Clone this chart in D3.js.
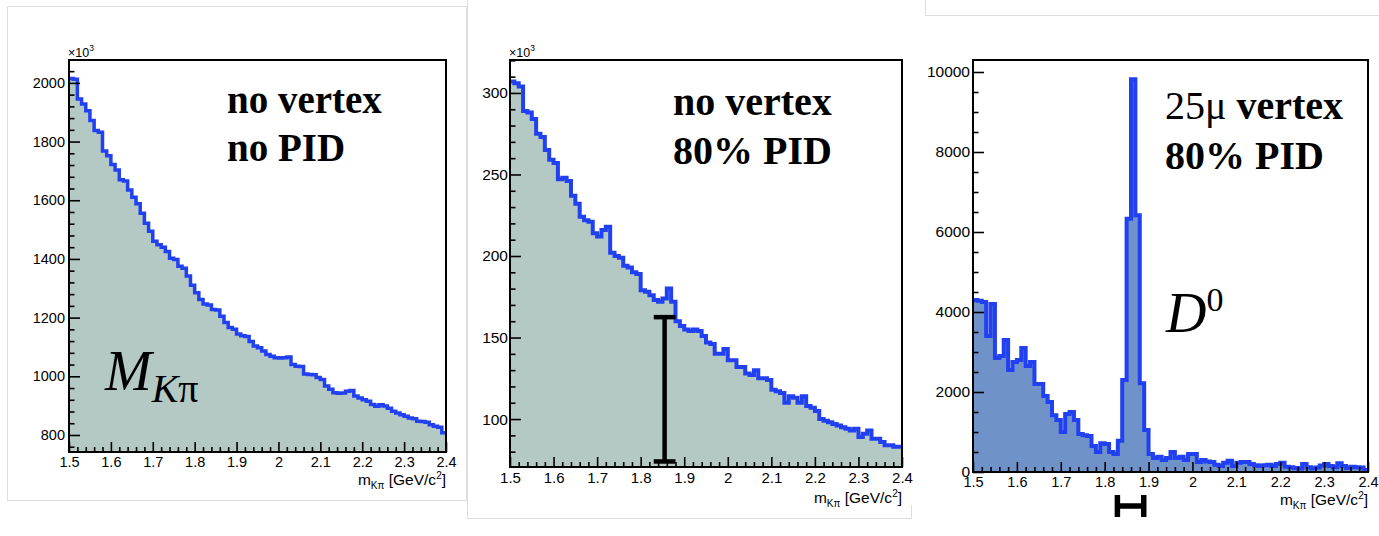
<!DOCTYPE html>
<html>
<head>
<meta charset="utf-8">
<script src="https://cdn.jsdelivr.net/npm/d3@7"></script>
<style>
  html, body { margin: 0; padding: 0; background: #fff; }
  svg { display: block; font-family: "Liberation Sans", Arial, Helvetica, sans-serif; }
</style>
</head>
<body>
<svg id="chart" width="1379" height="536"></svg>
<script>
// K-pi invariant mass spectra, 90 bins of 10 MeV from 1.5 to 2.4 GeV/c^2
const binLow = 1.5;
const binWidth = 0.01;
const xTickValues = [1.5, 1.6, 1.7, 1.8, 1.9, 2.0, 2.1, 2.2, 2.3, 2.4];
const xTickLabels = ["1.5", "1.6", "1.7", "1.8", "1.9", "2", "2.1", "2.2", "2.3", "2.4"];

// no vertex cut, no PID (entries x10^3)
const countsNoCut = [
  2015, 2012, 1945, 1928, 1905, 1872, 1838, 1832, 1768, 1752,
  1722, 1703, 1670, 1666, 1635, 1610, 1588, 1556, 1522, 1494,
  1460, 1448, 1440, 1425, 1402, 1398, 1375, 1368, 1342, 1310,
  1285, 1262, 1246, 1243, 1228, 1226, 1205, 1183, 1166, 1160,
  1144, 1138, 1136, 1119, 1103, 1097, 1086, 1074, 1068, 1063,
  1062, 1063, 1066, 1040, 1034, 1033, 1008, 1006, 1005, 996,
  989, 967, 956, 944, 942, 943, 949, 952, 933, 926,
  920, 915, 904, 898, 903, 899, 891, 881, 875, 869,
  864, 858, 855, 847, 846, 843, 835, 830, 826, 808
];

// no vertex cut, 80% PID (entries x10^3)
const countsPid = [
  307, 306, 304, 289, 288, 284, 275, 273, 265, 259,
  257, 247, 248, 246, 237, 232, 224, 222, 221, 214,
  212, 216, 218, 202, 200, 199, 194, 193, 190, 189,
  179, 178, 176, 173, 172, 174, 180, 172, 160, 157,
  155, 154, 155, 154, 151, 147, 146, 140, 140, 143,
  136, 136, 132, 132, 128, 127, 130, 125, 125, 124,
  118, 117, 116, 110, 114, 113, 110, 114, 108, 107,
  105, 100, 99, 98, 97, 96, 95, 94, 93, 94,
  89, 91, 93, 88, 88, 86, 84, 84, 83, 83
];

// 25 micron vertex cut, 80% PID (entries)
const countsVertexPid = [
  4300, 4280, 4250, 3400, 4200, 2850, 2900, 3300, 2550, 2750,
  2800, 3100, 2650, 2750, 2200, 2200, 1900, 1750, 1420, 1300,
  1000, 1450, 1500, 1300, 950, 920, 900, 650, 500, 720,
  700, 500, 450, 780, 2300, 6330, 9820, 6420, 2220, 1050,
  450, 350, 380, 300, 350, 500, 350, 380, 300, 450,
  450, 250, 300, 260, 250, 180, 150, 230, 280, 150,
  230, 250, 250, 200, 170, 150, 170, 180, 150, 200,
  230, 130, 120, 100, 90, 200, 120, 90, 110, 160,
  200, 150, 120, 220, 150, 100, 130, 120, 110, 50
];

const yTicksNoCut = [800, 1000, 1200, 1400, 1600, 1800, 2000];
const yTicksPid = [100, 150, 200, 250, 300];
const yTicksVertexPid = [0, 2000, 4000, 6000, 8000, 10000];

// D0 mass window markers
const windowCenter = 1.855, windowLow = 74, windowHigh = 162.5, windowHalf = 0.025;
const hLeft = 1.829, hRight = 1.889;

const lineColor = "#2140f2";
const svg = d3.select("#chart");

// faint borders of the pasted plot pictures
const border = svg.append("g").attr("fill", "none").attr("stroke", "#dddddd").attr("stroke-width", 1);
border.append("path").attr("d", "M7.5,6.5H466.5V500.5H7.5Z");
border.append("path").attr("d", "M467.5,0V518.5H911.5V505");
border.append("path").attr("d", "M925.5,0V15.5H1379");

const panels = [
  { id: "p1", counts: countsNoCut, frame: { l: 69, r: 446, t: 60, b: 452 },
    yDomain: [742, 2078], yTicks: yTicksNoCut, yMinor: 40, fill: "#b5c9c4", lw: 3.5,
    yFont: 14.5, xFont: 14.5, yPad: 4, xPad: 5, titleY: 485, exponent: true },
  { id: "p2", counts: countsPid, frame: { l: 510, r: 902, t: 60, b: 467 },
    yDomain: [70.6, 320.2], yTicks: yTicksPid, yMinor: 10, fill: "#b5c9c4", lw: 4,
    yFont: 15.5, xFont: 15, yPad: 2, xPad: 5, titleY: 503, exponent: true },
  { id: "p3", counts: countsVertexPid, frame: { l: 973, r: 1368, t: 60, b: 472 },
    yDomain: [0, 10300], yTicks: yTicksVertexPid, yMinor: 500, fill: "#6f93c8", lw: 4,
    yFont: 15.5, xFont: 14.5, yPad: 3, xPad: 5, titleY: 505, exponent: false }
];

panels.forEach(p => {
  const f = p.frame;
  const x = d3.scaleLinear().domain([1.5, 2.4]).range([f.l, f.r]);
  const y = d3.scaleLinear().domain(p.yDomain).range([f.b, f.t]);
  p.x = x; p.y = y;
  const g = svg.append("g").attr("id", p.id);

  g.append("clipPath").attr("id", p.id + "-clip")
    .append("rect").attr("x", f.l).attr("y", f.t).attr("width", f.r - f.l).attr("height", f.b - f.t);

  const pts = p.counts.map((v, i) => [binLow + i * binWidth, v]);
  pts.push([binLow + p.counts.length * binWidth, p.counts[p.counts.length - 1]]);

  const area = d3.area().x(d => x(d[0])).y0(f.b).y1(d => y(d[1])).curve(d3.curveStepAfter);
  const line = d3.line().x(d => x(d[0])).y(d => y(d[1])).curve(d3.curveStepAfter);

  const plot = g.append("g").attr("clip-path", `url(#${p.id}-clip)`);
  plot.append("path").attr("d", area(pts)).attr("fill", p.fill);
  plot.append("path").attr("d", line(pts)).attr("fill", "none")
    .attr("stroke", lineColor).attr("stroke-width", p.lw).attr("stroke-linejoin", "miter");

  // y axis: major ticks with labels, minor ticks inside the frame
  const yMajor = d3.axisLeft(y).tickValues(p.yTicks).tickSizeInner(-11).tickSizeOuter(0)
    .tickPadding(p.yPad).tickFormat(d3.format("d"));
  const minorY = d3.range(Math.ceil(p.yDomain[0] / p.yMinor) * p.yMinor, p.yDomain[1], p.yMinor)
    .filter(v => !p.yTicks.includes(v));
  const yMinorAxis = d3.axisLeft(y).tickValues(minorY).tickSizeInner(-5.5).tickSizeOuter(0).tickFormat("");
  const ya = g.append("g").attr("transform", `translate(${f.l},0)`).call(yMajor);
  const ym = g.append("g").attr("transform", `translate(${f.l},0)`).call(yMinorAxis);

  // x axis
  const xMajor = d3.axisBottom(x).tickValues(xTickValues).tickSizeInner(-10).tickSizeOuter(0)
    .tickPadding(p.xPad).tickFormat((d, i) => xTickLabels[i]);
  const minorX = d3.range(0, 46).map(i => 1.5 + i * 0.02).filter(v => Math.abs(Math.round(v * 10) - v * 10) > 1e-6);
  const xMinorAxis = d3.axisBottom(x).tickValues(minorX).tickSizeInner(-5).tickSizeOuter(0).tickFormat("");
  const xa = g.append("g").attr("transform", `translate(0,${f.b})`).call(xMajor);
  const xm = g.append("g").attr("transform", `translate(0,${f.b})`).call(xMinorAxis);

  [ya, ym, xa, xm].forEach(a => {
    a.select(".domain").remove();
    a.selectAll("line").attr("stroke", "#000").attr("stroke-width", 1.6);
  });
  ya.selectAll("text").attr("font-size", p.yFont).attr("fill", "#000")
    .attr("font-family", "'Liberation Sans', Arial, sans-serif");
  xa.selectAll("text").attr("font-size", p.xFont).attr("fill", "#000")
    .attr("font-family", "'Liberation Sans', Arial, sans-serif");

  // frame
  g.append("rect").attr("x", f.l).attr("y", f.t).attr("width", f.r - f.l).attr("height", f.b - f.t)
    .attr("fill", "none").attr("stroke", "#000").attr("stroke-width", 2);

  // axis title m_Kpi [GeV/c^2]
  const t = g.append("text").attr("x", f.r).attr("y", p.titleY).attr("text-anchor", "end")
    .attr("font-size", 15.5).attr("fill", "#000");
  t.append("tspan").text("m");
  t.append("tspan").attr("font-size", 10).attr("dy", 4).text("Kπ");
  t.append("tspan").attr("dy", -4).text(" [GeV/c");
  t.append("tspan").attr("font-size", 10).attr("dy", -6).text("2");
  t.append("tspan").attr("dy", 6).text("]");

  if (p.exponent) {
    const e = g.append("text").attr("x", f.l - 1).attr("y", 57).attr("font-size", 12.5).attr("fill", "#000");
    e.append("tspan").text("×10");
    e.append("tspan").attr("font-size", 8.5).attr("dy", -6).text("3");
  }
});

// annotations
const serif = "'Liberation Serif', 'Times New Roman', Times, serif";
function label(xp, yp, size, parts) {
  const t = svg.append("text").attr("x", xp).attr("y", yp).attr("font-family", serif)
    .attr("font-size", size).attr("fill", "#000");
  parts.forEach(pt => {
    const s = t.append("tspan").text(pt.text);
    if (pt.weight) s.attr("font-weight", pt.weight);
    if (pt.style) s.attr("font-style", pt.style);
    if (pt.size) s.attr("font-size", pt.size);
    if (pt.dy) s.attr("dy", pt.dy);
  });
  return t;
}

label(227, 113, 39, [{ text: "no vertex", weight: "bold" }]);
label(227, 161, 39, [{ text: "no PID", weight: "bold" }]);
label(673, 115, 40, [{ text: "no vertex", weight: "bold" }]);
label(673, 164, 40, [{ text: "80% PID", weight: "bold" }]);
label(1165, 119, 40, [{ text: "25μ" }, { text: " vertex", weight: "bold" }]);
label(1165, 169, 40, [{ text: "80% PID", weight: "bold" }]);

label(105, 390, 56, [{ text: "M", style: "italic" }, { text: "K", style: "italic", size: 40, dy: 12 }, { text: "π", size: 40 }]);
label(1166, 332, 56, [{ text: "D", style: "italic" }, { text: "0", size: 34, dy: -21 }]);

// mass window bar on the PID-only spectrum
const p2 = panels[1];
const bar = svg.append("g").attr("stroke", "#000").attr("stroke-width", 4.5);
bar.append("line").attr("x1", p2.x(windowCenter)).attr("x2", p2.x(windowCenter))
  .attr("y1", p2.y(windowHigh)).attr("y2", p2.y(windowLow));
[windowHigh, windowLow].forEach(v => {
  bar.append("line").attr("x1", p2.x(windowCenter - windowHalf)).attr("x2", p2.x(windowCenter + windowHalf))
    .attr("y1", p2.y(v)).attr("y2", p2.y(v));
});

// mass window marker under the vertex-cut spectrum
const p3 = panels[2];
const h = svg.append("g").attr("stroke", "#000").attr("stroke-width", 5.5);
const hy0 = p3.frame.b + 23, hy1 = p3.frame.b + 45;
h.append("line").attr("x1", p3.x(hLeft)).attr("x2", p3.x(hLeft)).attr("y1", hy0).attr("y2", hy1);
h.append("line").attr("x1", p3.x(hRight)).attr("x2", p3.x(hRight)).attr("y1", hy0).attr("y2", hy1);
h.append("line").attr("x1", p3.x(hLeft)).attr("x2", p3.x(hRight)).attr("y1", (hy0 + hy1) / 2).attr("y2", (hy0 + hy1) / 2);
</script>
</body>
</html>
